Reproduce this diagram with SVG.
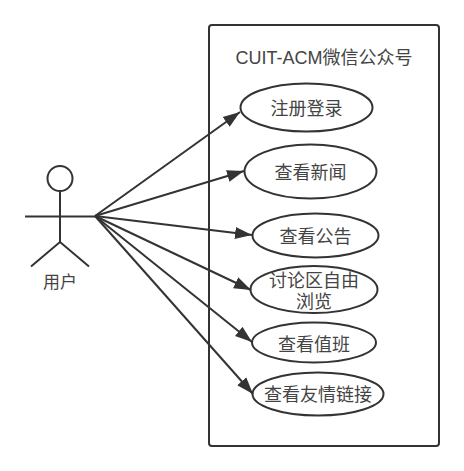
<svg xmlns="http://www.w3.org/2000/svg" width="464" height="471" viewBox="0 0 464 471">
<defs>
<style>
text{font-family:"Liberation Sans","Noto Sans CJK SC",sans-serif;font-size:18px;fill:#444;text-anchor:middle}
.s{fill:none;stroke:#333;stroke-width:2}
.e{fill:#fff;stroke:#333;stroke-width:2}
.c{fill:none;stroke:#333;stroke-width:2;marker-end:url(#a)}
</style>
<marker id="a" markerUnits="userSpaceOnUse" markerWidth="18" markerHeight="14" refX="17" refY="6" orient="auto" viewBox="0 0 18 12"><path d="M0 0L17 6L0 12Z" fill="#333"/></marker>
</defs>
<rect width="464" height="471" fill="#fff"/>
<g id="system"><rect class="s" x="209" y="25" width="230" height="421" rx="3"/><text x="324" y="64">CUIT-ACM微信公众号</text></g>
<g id="actor"><circle class="s" cx="60" cy="178.5" r="12.5"/><path class="s" d="M60 191V242M25 216.500H95M31 266.500L60 242L89 266.500"/><text x="60" y="288" style="font-size:17px">用户</text></g>
<g id="n1"><ellipse class="e" cx="306.500" cy="107.500" rx="66" ry="24"/><text x="306.500" y="115">注册登录</text></g>
<g id="n2"><ellipse class="e" cx="310.500" cy="171.500" rx="66" ry="27"/><text x="310.500" y="179">查看新闻</text></g>
<g id="n3"><ellipse class="e" cx="315.500" cy="235.500" rx="63" ry="22"/><text x="315.500" y="243">查看公告</text></g>
<g id="n4"><ellipse class="e" cx="314" cy="289.500" rx="63.500" ry="23.500"/><text x="314" y="287">讨论区自由</text><text x="314" y="308">浏览</text></g>
<g id="n5"><ellipse class="e" cx="314" cy="342.500" rx="62" ry="20"/><text x="314" y="351">查看值班</text></g>
<g id="n6"><ellipse class="e" cx="318" cy="394" rx="65.500" ry="21.500"/><text x="318" y="401">查看友情链接</text></g>
<g id="connectors">
<path class="c" d="M95 216L240 112"/>
<path class="c" d="M95 216L244 171"/>
<path class="c" d="M95 216L252 235"/>
<path class="c" d="M95 216L251 290"/>
<path class="c" d="M95 216L252 342"/>
<path class="c" d="M95 216L253 394"/>
</g>
</svg>
